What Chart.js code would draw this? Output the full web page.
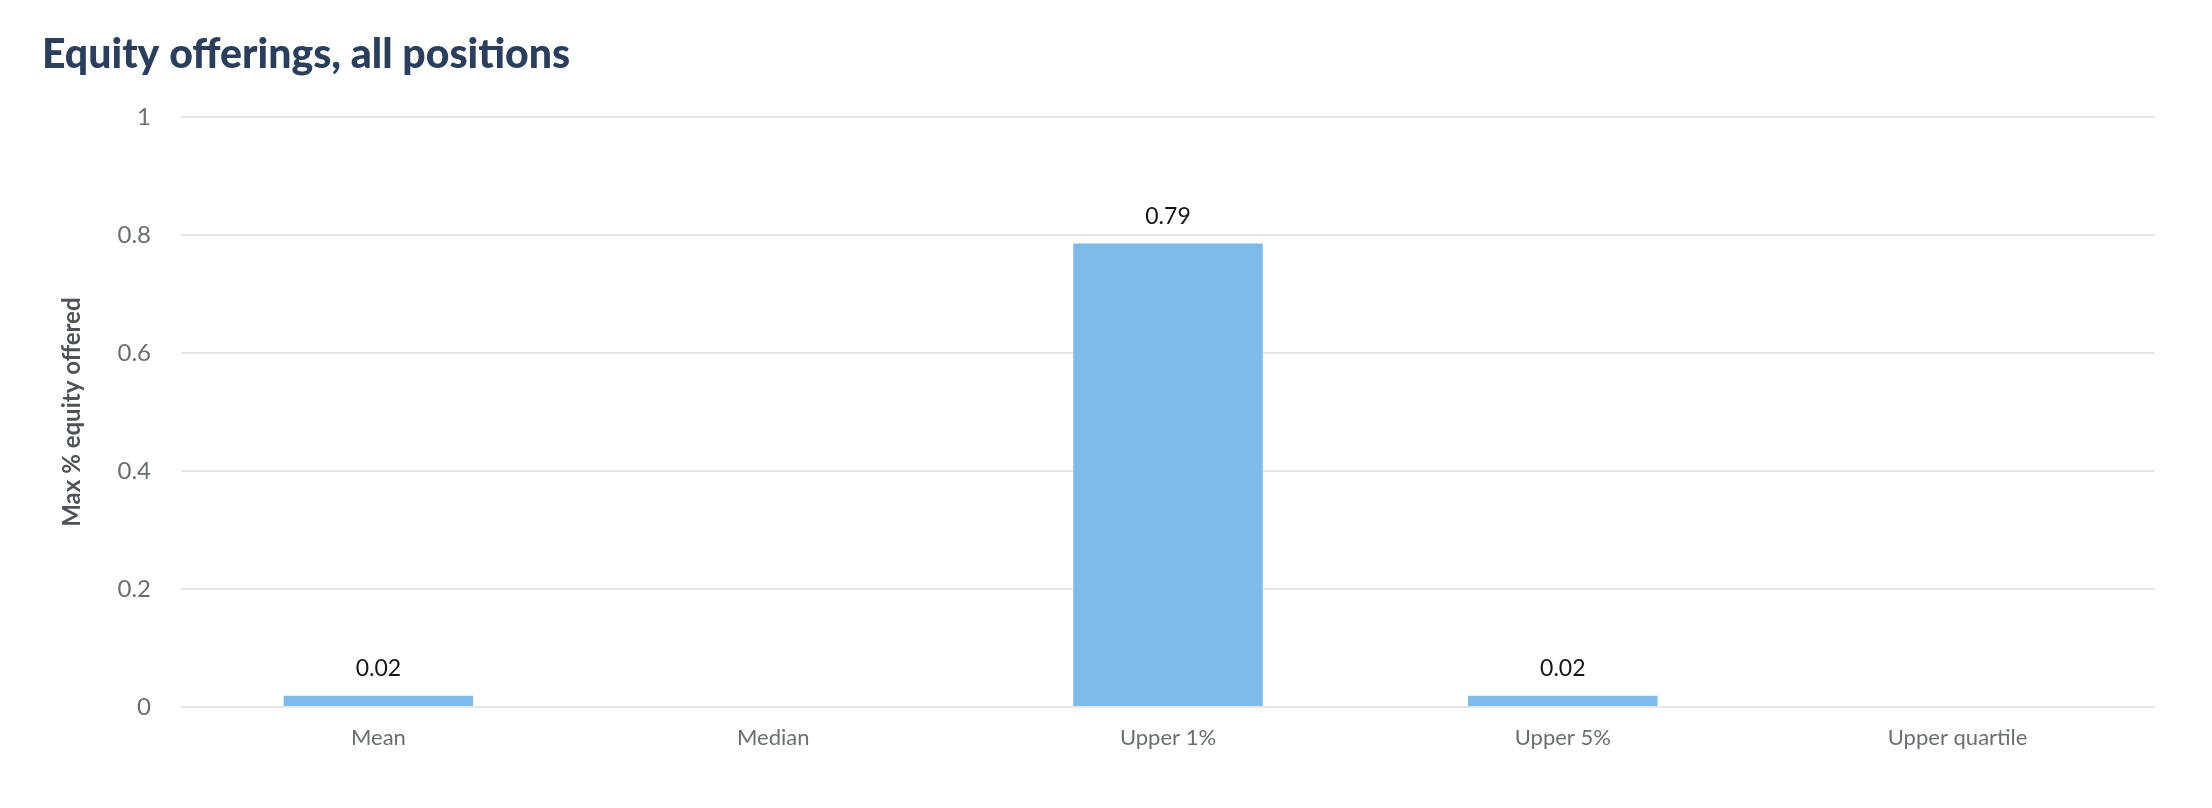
<!DOCTYPE html>
<html>
<head>
<meta charset="utf-8">
<script src="https://cdn.jsdelivr.net/npm/chart.js@4/dist/chart.umd.min.js"></script>
<style>
  html, body { margin: 0; padding: 0; background: #ffffff; }
  #wrap { width: 2212px; height: 808px; position: relative; }
</style>
</head>
<body>
<div id="wrap"><canvas id="chart-equity"></canvas></div>
<script>
const categories = ["Mean", "Median", "Upper 1%", "Upper 5%", "Upper quartile"];
const maxEquity = [0.019, 0, 0.786, 0.019, 0];
const yTicks = [0, 0.2, 0.4, 0.6, 0.8, 1];

const TICK_COLOR = "#6a6e73";
const FONT = "Lato";

// draws the value above each non-zero bar
const valueLabels = {
    id: "valueLabels",
    afterDatasetsDraw(chart) {
        const ctx = chart.ctx;
        const meta = chart.getDatasetMeta(0);
        ctx.save();
        ctx.font = `400 23px ${FONT}`;
        ctx.fillStyle = "#151515";
        ctx.textAlign = "center";
        ctx.textBaseline = "middle";
        meta.data.forEach((bar, i) => {
            const v = chart.data.datasets[0].data[i];
            if (!v) return;
            ctx.fillText(v.toFixed(2), bar.x, bar.y - 27);
        });
        ctx.restore();
    },
};

new Chart(document.getElementById("chart-equity").getContext("2d"), {
    type: "bar",
    data: {
        labels: categories,
        datasets: [{
            data: maxEquity,
            backgroundColor: "#7fbae9",
            borderWidth: 0,
            categoryPercentage: 1,
            barPercentage: 0.48,
        }],
    },
    options: {
        responsive: true,
        maintainAspectRatio: false,
        animation: false,
        layout: { padding: { left: 42, right: 57, top: 30, bottom: 0 } },
        plugins: {
            legend: { display: false },
            tooltip: { enabled: false },
            title: {
                display: true,
                text: "Equity offerings, all positions",
                align: "start",
                color: "#2b3f5c",
                font: { family: FONT, size: 41, weight: "900" },
                padding: { top: 0, bottom: 38 },
            },
        },
        scales: {
            x: {
                afterFit(scale) { scale.height = 101; },
                grid: { display: false, drawTicks: false },
                border: { display: false },
                ticks: {
                    color: TICK_COLOR,
                    padding: 18,
                    font: { family: FONT, size: 22 },
                },
            },
            y: {
                min: 0,
                max: 1,
                afterFit(scale) { scale.width = 139; },
                afterBuildTicks(scale) {
                    scale.ticks = yTicks.map((v) => ({ value: v }));
                },
                grid: { color: "#e6e6e6", lineWidth: 2, drawTicks: false },
                border: { display: false },
                ticks: {
                    color: TICK_COLOR,
                    padding: 30,
                    font: { family: FONT, size: 24 },
                    callback: (v) => String(Math.round(v * 10) / 10),
                },
                title: {
                    display: true,
                    text: "Max % equity offered",
                    color: "#4f5358",
                    font: { family: FONT, size: 24, weight: "bold" },
                    padding: { top: 16, bottom: 0 },
                },
            },
        },
    },
    plugins: [valueLabels],
});
</script>
</body>
</html>
